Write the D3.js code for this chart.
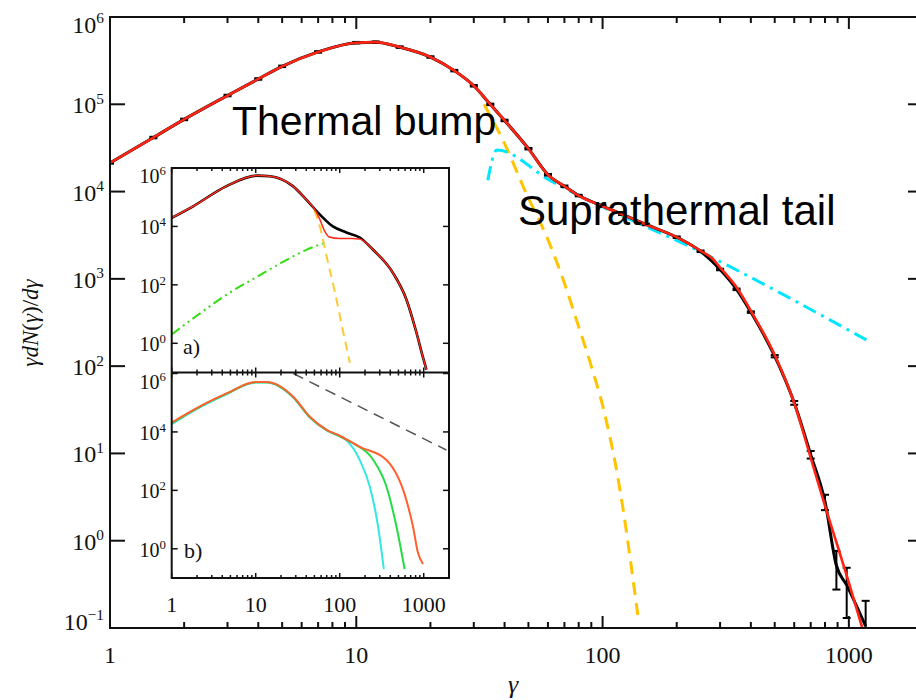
<!DOCTYPE html>
<meta charset="utf-8">
<style>
    body {
        margin: 0;
        background: #fff;
    }
    svg {
        display: block;
    }
    .lab {
        font-family: "Liberation Serif", "Times New Roman", serif;
        fill: #111;
    }
    .note {
        font-family: "Liberation Sans", Arial, sans-serif;
        fill: #000;
    }
</style>

<body>
    <script src="https://d3js.org/d3.v7.min.js"></script>
    <script>
        // ---- main panel: measured spectrum (black, with error bars) ----
        var dataGamma = [1, 1.5, 2, 3, 4, 5, 7, 10, 12, 15, 20, 25, 30, 35, 40, 50, 60, 70, 80,
            100, 120, 150, 200, 250, 300, 350, 400, 500, 600, 700, 800, 890, 980, 1170];
        var dataVals = [2.13e4, 4.16e4, 6.71e4, 1.26e5, 1.95e5, 2.72e5, 3.98e5, 5.08e5, 5.15e5, 4.52e5,
            3.48e5, 2.43e5, 1.63e5, 9.98e4, 6.53e4, 3.10e4, 1.56e4, 1.15e4, 9.0e3,
            6.8e3, 5.5e3, 4.2e3, 3.0e3, 2.07e3, 1.28e3, 759, 416, 130, 38, 9.7, 2.8, 0.52, 0.31, 0.105];
        // relative error of each point
        var dataErr = [0.02, 0.02, 0.02, 0.02, 0.02, 0.02, 0.02, 0.02, 0.02, 0.02, 0.02, 0.02, 0.02,
            0.02, 0.02, 0.02, 0.02, 0.02, 0.02, 0.02, 0.02, 0.02, 0.02, 0.02, 0.02, 0.02,
            0.02, 0.03, 0.05, 0.1, 0.2, 0.47, 0.58, 0.95];

        // red: thermal + power-law fit
        var fitGamma = [1, 1.5, 2, 3, 4, 5, 7, 10, 12, 15, 20, 25, 30, 35, 40, 50, 60, 70, 80,
            100, 120, 150, 200, 250, 280, 300, 350, 400, 500, 600, 700, 800, 900, 1000, 1140];
        var fitVals = [2.13e4, 4.16e4, 6.71e4, 1.26e5, 1.95e5, 2.72e5, 3.98e5, 5.08e5, 5.15e5, 4.52e5,
            3.48e5, 2.43e5, 1.63e5, 9.98e4, 6.53e4, 3.10e4, 1.56e4, 1.15e4, 9.0e3,
            6.8e3, 5.5e3, 4.2e3, 3.0e3, 2.1e3, 1.7e3, 1.35e3, 800, 430, 134, 37.8, 8.9, 2.5, 0.87, 0.33, 0.095];

        // yellow dashed: Maxwellian component
        var thermGamma = [33, 40, 49, 60, 70, 80, 90, 100, 115, 139];
        var thermVals = [1e5, 3.55e4, 9.5e3, 2820, 891, 282, 100, 35.5, 5.6, 0.141];

        // cyan dash-dot: suprathermal power law
        var tailGamma = [34.2, 37.2, 61, 290, 1178];
        var tailVals = [1.35e4, 3.0e4, 1.35e4, 1.66e3, 200];

        // ---- inset a ----
        var aGamma = [1, 1.8, 4.5, 10.3, 14.8, 27.7, 40, 58, 83, 120, 173, 248, 428, 622, 819, 973, 1077];
        var aData = [1.97e4, 4.9e4, 2.4e5, 5.5e5, 5.25e5, 2.4e5, 8.3e4, 2.57e4, 1.0e4, 6.2e3, 4.17e3,
            1.62e3, 263, 31.6, 2.34, 0.355, 0.126];
        var aFitGamma = [1, 1.8, 4.5, 10.3, 14.8, 27.7, 40, 50, 58, 66, 75, 100, 140, 173, 248, 428, 622,
            819, 973, 1077];
        var aFit = [1.97e4, 4.9e4, 2.4e5, 5.5e5, 5.25e5, 2.4e5, 8.3e4, 3.98e4, 1.74e4, 7.08e3, 4.37e3,
            3.89e3, 3.89e3, 3.72e3, 1.62e3, 263, 31.6, 2.34, 0.355, 0.126];
        var aThermGamma = [50, 58, 70, 88, 108, 132];
        var aThermVals = [3.55e4, 1e4, 912, 53.7, 3.16, 0.214];
        var aPowGamma = [1, 2, 5, 10, 20, 40, 70];
        var aPowVals = [2.0, 8.9, 56, 178, 562, 1585, 2884];

        // ---- inset b ----
        var bCyanGamma = [1, 1.8, 4.5, 10, 13.5, 28, 44, 70, 100, 120, 173, 228, 286, 335];
        var bCyan = [1.85e4, 5.2e4, 1.95e5, 4.9e5, 4.9e5, 1.5e5, 3.1e4, 1.12e4, 7.0e3, 5.2e3, 1.1e3, 135, 5.9, 0.2];
        var bGreenGamma = [1, 1.8, 4.5, 10, 13.5, 28, 44, 70, 100, 144, 251, 360, 473, 593];
        var bGreen = [1.95e4, 5.5e4, 2.04e5, 5.0e5, 5.0e5, 1.55e5, 3.24e4, 1.15e4, 7.2e3, 4.1e3, 1.1e3, 135, 5.9, 0.2];
        var bOrangeGamma = [1, 1.8, 4.5, 10, 13.5, 28, 44, 70, 100, 173, 360, 620, 744, 853, 980];
        var bOrange = [2.1e4, 5.6e4, 2.08e5, 5.1e5, 5.1e5, 1.6e5, 3.3e4, 1.18e4, 7.4e3, 3.1e3, 1.1e3, 48, 5.9, 0.74, 0.30];
        var bRefGamma = [28, 1860];
        var bRefVals = [1e6, 2.4e3];

        var yDecades = [-1, 0, 1, 2, 3, 4, 5, 6];
        var insetDecades = [0, 2, 4, 6];
        var xLabels = [1, 10, 100, 1000];

        var width = 916,
            height = 700;

        var svg = d3.select("body").append("svg")
            .attr("width", width)
            .attr("height", height);

        // scales
        var x = d3.scaleLog().domain([1, 2000]).range([110, 923]);
        var y = d3.scaleLog().domain([0.1, 1e6]).range([628, 17]);
        var ix = d3.scaleLog().domain([1, 2000]).range([171.7, 449]);
        var ya = d3.scaleLog().domain([0.1, 1e6]).range([372.5, 168]);
        var yb = d3.scaleLog().domain([0.1, 1e6]).range([578, 373.5]);

        var defs = svg.append("defs");
        defs.append("clipPath").attr("id", "clipMain").append("rect")
            .attr("x", 110).attr("y", 17).attr("width", 813).attr("height", 611);
        defs.append("clipPath").attr("id", "clipA").append("rect")
            .attr("x", 171.7).attr("y", 168).attr("width", 277.3).attr("height", 204.5);
        defs.append("clipPath").attr("id", "clipB").append("rect")
            .attr("x", 171.7).attr("y", 372.5).attr("width", 277.3).attr("height", 205.5);

        function isMajor(t) {
            return Math.abs(Math.log10(t) - Math.round(Math.log10(t))) < 1e-6;
        }

        function curve(g, xs, ys, gam, vals, color, w, dash) {
            var line = d3.line()
                .x(function (d) { return xs(d[0]); })
                .y(function (d) { return ys(d[1]); })
                .curve(d3.curveMonotoneX);
            g.append("path")
                .datum(d3.zip(gam, vals))
                .attr("d", line)
                .attr("fill", "none")
                .attr("stroke", color)
                .attr("stroke-width", w)
                .attr("stroke-linejoin", "round")
                .attr("stroke-dasharray", dash || null);
        }

        function powLabel(g, px, py, e, size, anchor) {
            var t = g.append("text")
                .attr("class", "lab")
                .attr("x", px)
                .attr("y", py)
                .attr("text-anchor", anchor || "end")
                .style("font-size", size + "px")
                .text("10");
            t.append("tspan")
                .attr("dy", -size * 0.4)
                .style("font-size", (size * 0.64) + "px")
                .text(e < 0 ? "\u2212" + (-e) : e);
        }

        // ---------- main panel ----------
        var main = svg.append("g");
        var plot = main.append("g").attr("clip-path", "url(#clipMain)");

        curve(plot, x, y, thermGamma, thermVals, "#ffc400", 3, "13,8");
        curve(plot, x, y, tailGamma, tailVals, "#00e6ff", 3, "14,6,3,6");
        curve(plot, x, y, dataGamma, dataVals, "#000", 3);

        // error bars
        var bars = plot.append("g").attr("stroke", "#000").attr("stroke-width", 2);
        dataGamma.forEach(function (g, i) {
            var v = dataVals[i], e = dataErr[i];
            var lo = Math.max(v * (1 - e), 0.05), hi = v * (1 + e);
            var px = x(g);
            bars.append("line").attr("x1", px).attr("x2", px).attr("y1", y(lo)).attr("y2", y(hi));
            bars.append("line").attr("x1", px - 4).attr("x2", px + 4).attr("y1", y(hi)).attr("y2", y(hi));
            bars.append("line").attr("x1", px - 4).attr("x2", px + 4).attr("y1", y(lo)).attr("y2", y(lo));
        });

        curve(plot, x, y, fitGamma, fitVals, "#ff2414", 2.6);

        // frame and ticks
        main.append("rect")
            .attr("x", 110).attr("y", 17).attr("width", 813).attr("height", 611)
            .attr("fill", "none").attr("stroke", "#111").attr("stroke-width", 2);

        var ticks = main.append("g").attr("stroke", "#111").attr("stroke-width", 2);
        x.ticks().forEach(function (t) {
            var len = isMajor(t) ? 12 : 6;
            ticks.append("line").attr("x1", x(t)).attr("x2", x(t)).attr("y1", 628).attr("y2", 628 - len);
            ticks.append("line").attr("x1", x(t)).attr("x2", x(t)).attr("y1", 17).attr("y2", 17 + len);
        });
        yDecades.forEach(function (e) {
            var py = y(Math.pow(10, e));
            ticks.append("line").attr("x1", 110).attr("x2", 125).attr("y1", py).attr("y2", py);
            ticks.append("line").attr("x1", 923).attr("x2", 908).attr("y1", py).attr("y2", py);
            var base = e === 6 ? py + 16 : (e === -1 ? py + 2 : py + 9);
            powLabel(main, 104, base, e, 24);
        });
        xLabels.forEach(function (t) {
            main.append("text").attr("class", "lab")
                .attr("x", x(t)).attr("y", 663)
                .attr("text-anchor", "middle")
                .style("font-size", "24px")
                .text(t);
        });

        // axis titles
        var yt = main.append("text").attr("class", "lab")
            .attr("transform", "translate(38,323) rotate(-90)")
            .attr("text-anchor", "middle")
            .style("font-size", "23px");
        yt.append("tspan").style("font-style", "italic").text("\u03b3dN");
        yt.append("tspan").text("(");
        yt.append("tspan").style("font-style", "italic").text("\u03b3");
        yt.append("tspan").text(")/");
        yt.append("tspan").style("font-style", "italic").text("d\u03b3");

        main.append("text").attr("class", "lab")
            .attr("x", 513).attr("y", 693)
            .attr("text-anchor", "middle")
            .style("font-size", "26px")
            .style("font-style", "italic")
            .text("\u03b3");

        // annotations
        main.append("text").attr("class", "note")
            .attr("x", 232).attr("y", 135)
            .style("font-size", "41px")
            .text("Thermal bump");
        main.append("text").attr("class", "note")
            .attr("x", 518).attr("y", 225)
            .style("font-size", "42px")
            .text("Suprathermal tail");

        // ---------- inset ----------
        var inset = svg.append("g");
        inset.append("rect")
            .attr("x", 171.7).attr("y", 168).attr("width", 277.3).attr("height", 410)
            .attr("fill", "#fff");

        var pa = inset.append("g").attr("clip-path", "url(#clipA)");
        curve(pa, ix, ya, aPowGamma, aPowVals, "#33dd11", 2, "10,4,2,4,2,4");
        curve(pa, ix, ya, aThermGamma, aThermVals, "#ffc933", 2, "9,6");
        curve(pa, ix, ya, aGamma, aData, "#000", 2.6);
        curve(pa, ix, ya, aFitGamma, aFit, "#ff2a1a", 1.5);

        var pb = inset.append("g").attr("clip-path", "url(#clipB)");
        curve(pb, ix, yb, bRefGamma, bRefVals, "#555", 1.5, "11,7");
        curve(pb, ix, yb, bCyanGamma, bCyan, "#33e8e0", 2);
        curve(pb, ix, yb, bGreenGamma, bGreen, "#22dd44", 2);
        curve(pb, ix, yb, bOrangeGamma, bOrange, "#ff6030", 2);

        var iframe = inset.append("g").attr("fill", "none").attr("stroke", "#111").attr("stroke-width", 2);
        iframe.append("rect").attr("x", 171.7).attr("y", 168).attr("width", 277.3).attr("height", 410);
        iframe.append("line").attr("x1", 171.7).attr("x2", 449).attr("y1", 372.5).attr("y2", 372.5);

        var iticks = inset.append("g").attr("stroke", "#111").attr("stroke-width", 1.5);
        ix.ticks().forEach(function (t) {
            var len = isMajor(t) ? 5 : 3;
            var px = ix(t);
            iticks.append("line").attr("x1", px).attr("x2", px).attr("y1", 168).attr("y2", 168 + len);
            iticks.append("line").attr("x1", px).attr("x2", px).attr("y1", 372.5 - len).attr("y2", 372.5 + len);
            iticks.append("line").attr("x1", px).attr("x2", px).attr("y1", 578).attr("y2", 578 - len);
        });
        [ya, yb].forEach(function (ys) {
            insetDecades.forEach(function (e) {
                var py = ys(Math.pow(10, e));
                iticks.append("line").attr("x1", 171.7).attr("x2", 177.7).attr("y1", py).attr("y2", py);
                iticks.append("line").attr("x1", 449).attr("x2", 443).attr("y1", py).attr("y2", py);
                var base = e === 6 ? py + 15 : py + 8;
                powLabel(inset, 166, base, e, 20);
            });
        });
        xLabels.forEach(function (t) {
            inset.append("text").attr("class", "lab")
                .attr("x", ix(t)).attr("y", 612)
                .attr("text-anchor", "middle")
                .style("font-size", "22px")
                .text(t);
        });
        inset.append("text").attr("class", "lab")
            .attr("x", 183).attr("y", 354)
            .style("font-size", "22px")
            .text("a)");
        inset.append("text").attr("class", "lab")
            .attr("x", 184).attr("y", 558)
            .style("font-size", "22px")
            .text("b)");
    </script>
</body>
